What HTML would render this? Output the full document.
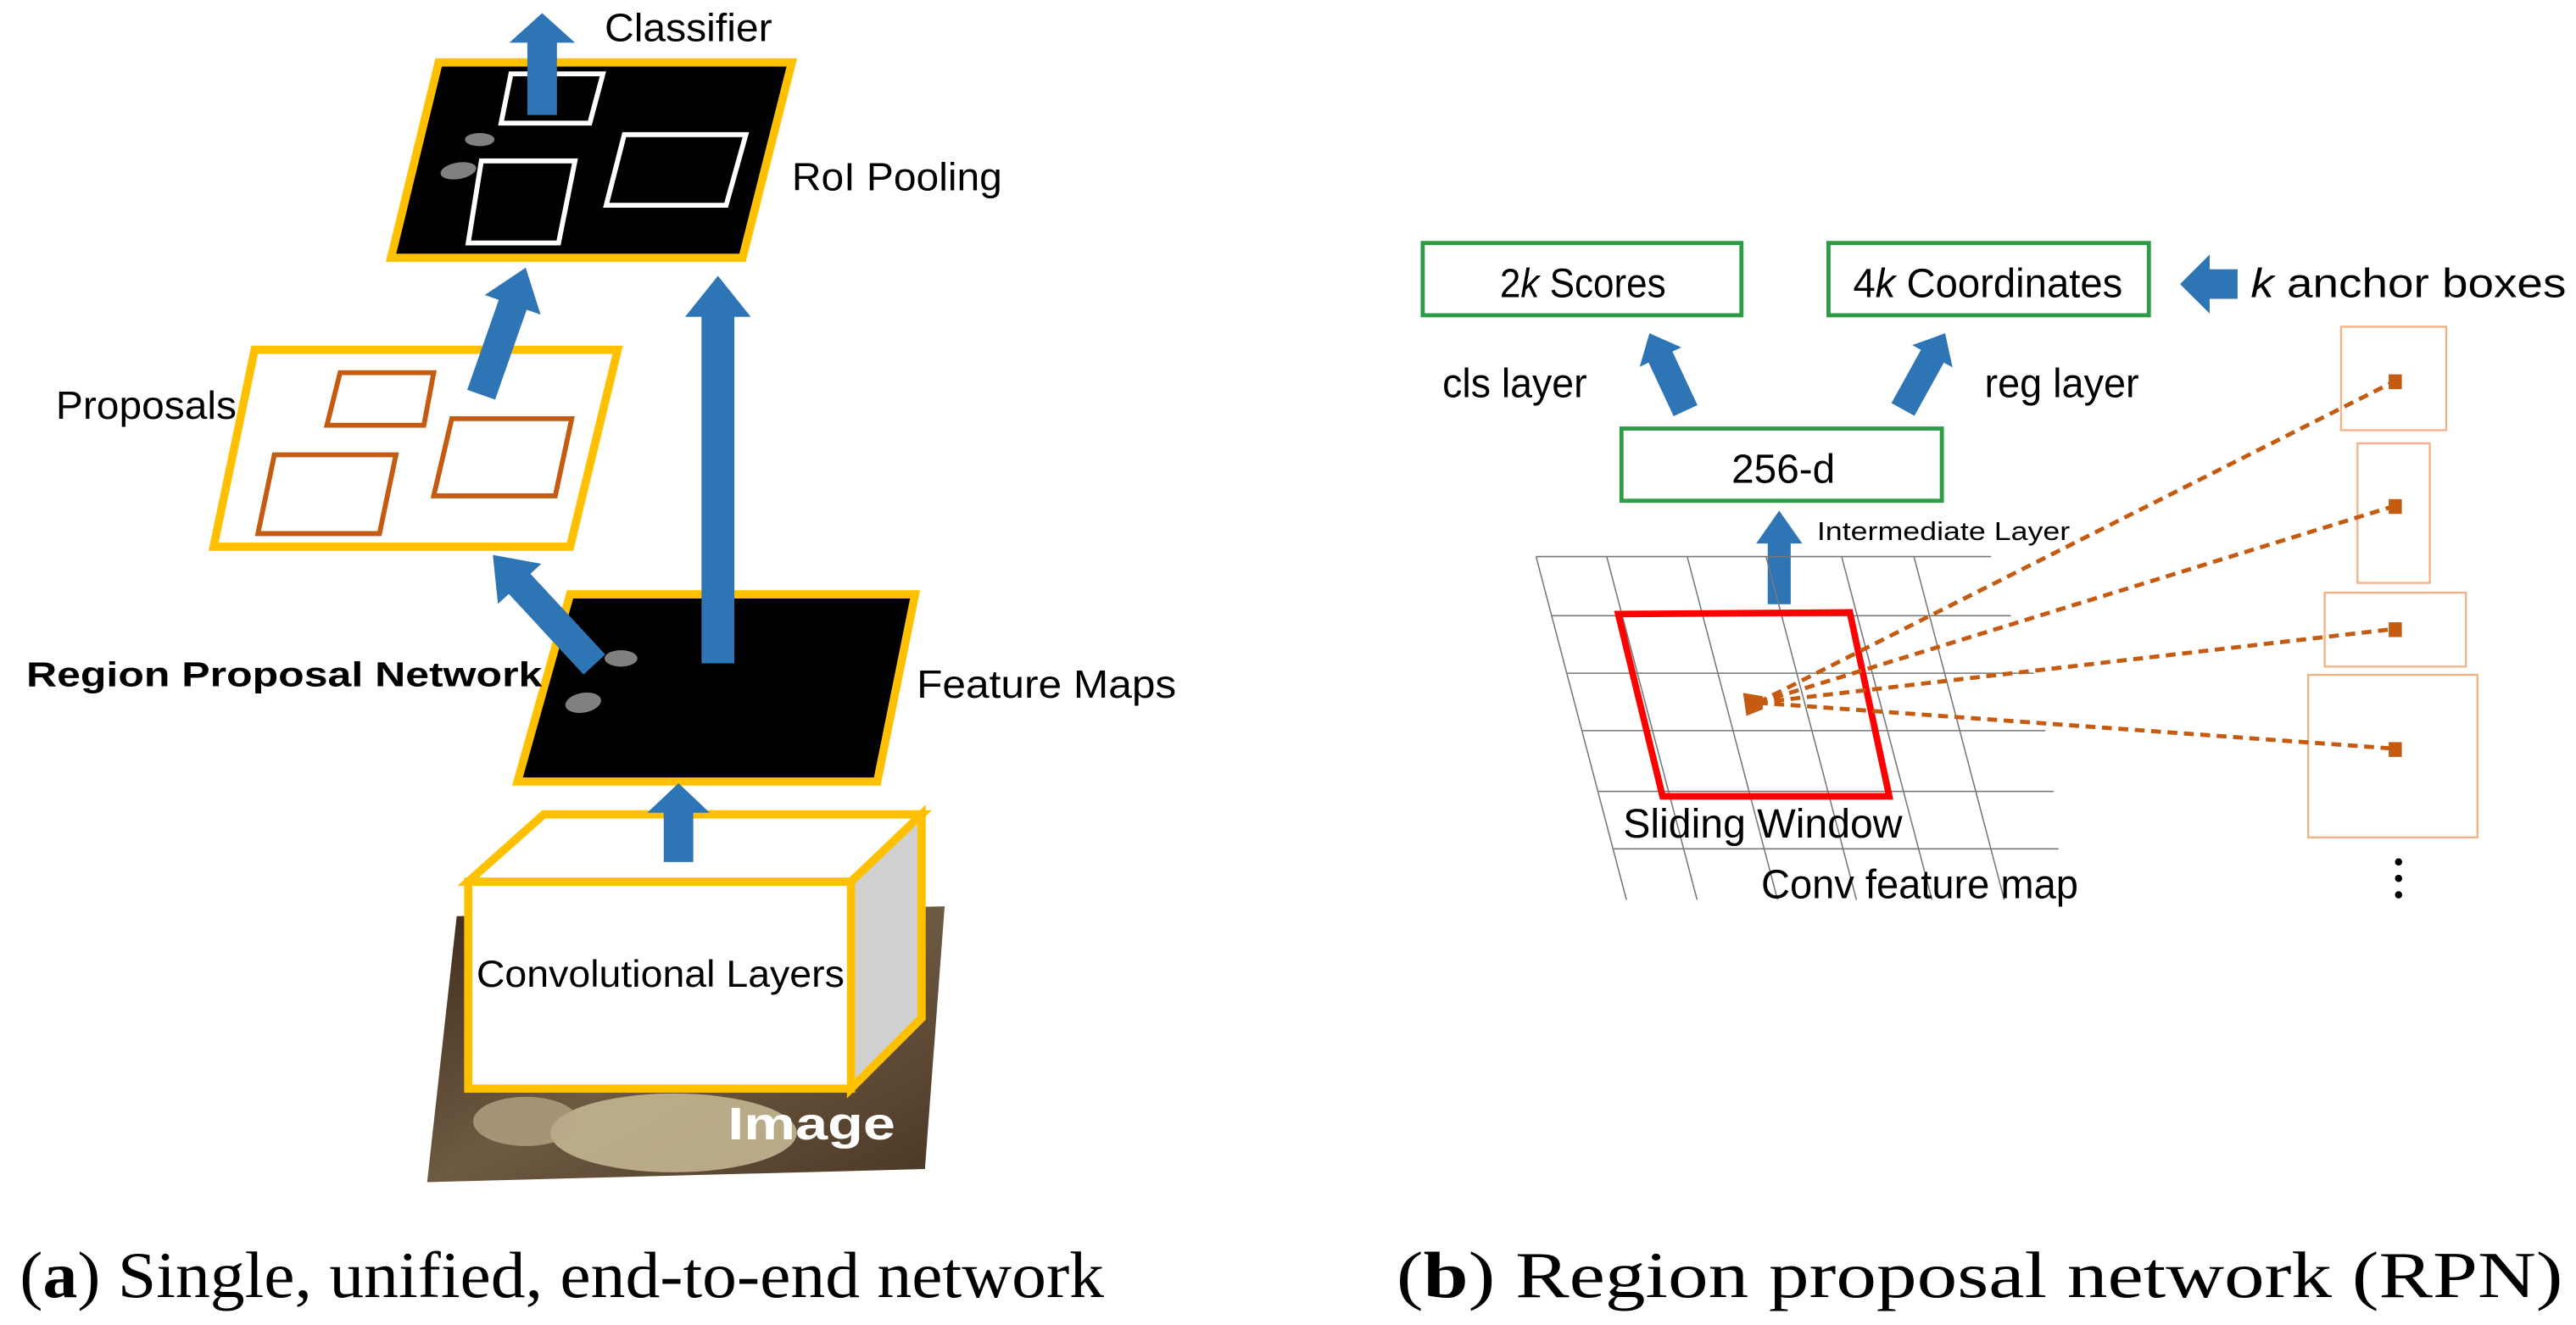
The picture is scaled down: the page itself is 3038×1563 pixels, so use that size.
<!DOCTYPE html>
<html><head><meta charset="utf-8"><style>
html,body{margin:0;padding:0;background:#fff;}
svg{display:block;}
text{font-family:"Liberation Sans",sans-serif;}
.s{font-family:"Liberation Serif",serif;}
</style></head><body>
<svg width="3038" height="1563" viewBox="0 0 1568 807" preserveAspectRatio="none" xmlns="http://www.w3.org/2000/svg">
<defs>
<linearGradient id="img" x1="0" y1="0" x2="1" y2="1">
<stop offset="0" stop-color="#3e2c1c"/><stop offset="0.5" stop-color="#6e5a42"/><stop offset="1" stop-color="#4a3624"/>
</linearGradient>
</defs>
<polygon points="278,558 575,552 563,712 260,720" fill="url(#img)"/>
<ellipse cx="410" cy="690" rx="75" ry="24" fill="#c9bb96" opacity="0.85"/>
<ellipse cx="320" cy="683" rx="32" ry="15" fill="#b8a888" opacity="0.75"/>
<polygon points="285,537 331,496 561,496 518,537" fill="#fff" stroke="#ffc000" stroke-width="5"/>
<polygon points="518,537 561,496 561,620 518,663" fill="#d0d0d0" stroke="#ffc000" stroke-width="5"/>
<rect x="285" y="537" width="233" height="126" fill="#fff" stroke="#ffc000" stroke-width="5"/>
<text x="290" y="601" font-size="23" textLength="224" lengthAdjust="spacingAndGlyphs">Convolutional Layers</text>
<text x="443" y="694" font-size="28" font-weight="bold" fill="#fff" textLength="102" lengthAdjust="spacingAndGlyphs">Image</text>
<polygon points="347,362 557,362 534,476 315,476" fill="#000" stroke="#ffc000" stroke-width="5"/>
<ellipse cx="378" cy="401" rx="10" ry="5" fill="#808080"/>
<ellipse cx="355" cy="428" rx="11" ry="6" fill="#808080" transform="rotate(-10 355 428)"/>
<text x="558" y="425" font-size="24" textLength="158" lengthAdjust="spacingAndGlyphs">Feature Maps</text>
<text x="16" y="418" font-size="21" font-weight="bold" textLength="314" lengthAdjust="spacingAndGlyphs">Region Proposal Network</text>
<polygon points="155,213 376,213 347,333 130,333" fill="#fff" stroke="#ffc000" stroke-width="5"/>
<polygon points="207,227 264,227 258,259 199,259" fill="none" stroke="#c55a11" stroke-width="3"/>
<polygon points="275,255 348,255 338,302 264,302" fill="none" stroke="#c55a11" stroke-width="3"/>
<polygon points="167,277 241,277 231,325 157,325" fill="none" stroke="#c55a11" stroke-width="3"/>
<text x="34" y="255" font-size="24" textLength="110" lengthAdjust="spacingAndGlyphs">Proposals</text>
<polygon points="267,38 482,38 452,157 238,157" fill="#000" stroke="#ffc000" stroke-width="5"/>
<polygon points="311,45 367,45 359,75 305,75" fill="none" stroke="#fff" stroke-width="3"/>
<polygon points="293,98 350,98 340,148 285,148" fill="none" stroke="#fff" stroke-width="3"/>
<polygon points="380,82 454,82 442,125 369,125" fill="none" stroke="#fff" stroke-width="3"/>
<ellipse cx="292" cy="85" rx="9" ry="4" fill="#808080"/>
<ellipse cx="279" cy="104" rx="11" ry="5" fill="#808080" transform="rotate(-10 279 104)"/>
<text x="482" y="116" font-size="24" textLength="128" lengthAdjust="spacingAndGlyphs">RoI Pooling</text>
<text x="368" y="25" font-size="24" textLength="102" lengthAdjust="spacingAndGlyphs">Classifier</text>
<g fill="#2e75b6">
<polygon transform="translate(330,8)" points="0,0 20,18 9,18 9,62 -9,62 -9,18 -20,18"/>
<polygon transform="translate(437,168)" points="0,0 20,25 10,25 10,236 -10,236 -10,25 -20,25"/>
<polygon transform="translate(320,163) rotate(19.3)" points="0,0 18,24 9,24 9,82 -9,82 -9,24 -18,24"/>
<polygon transform="translate(300,338) rotate(-42.8)" points="0,0 18,24 9,24 9,91 -9,91 -9,24 -18,24"/>
<polygon transform="translate(413,477)" points="0,0 19,18 9,18 9,48 -9,48 -9,18 -19,18"/>
</g>
<text class="s" x="12" y="790" font-size="40" textLength="660" lengthAdjust="spacingAndGlyphs">(<tspan font-weight="bold">a</tspan>) Single, unified, end-to-end network</text>

<g fill="none" stroke="#2e9b46" stroke-width="2.5">
<rect x="866" y="148" width="194" height="44"/>
<rect x="1113" y="148" width="195" height="44"/>
<rect x="987" y="261" width="195" height="44"/>
</g>
<text x="913" y="181" font-size="25" textLength="101" lengthAdjust="spacingAndGlyphs">2<tspan font-style="italic">k</tspan> Scores</text>
<text x="1128" y="181" font-size="25" textLength="164" lengthAdjust="spacingAndGlyphs">4<tspan font-style="italic">k</tspan> Coordinates</text>
<text x="1054" y="294" font-size="25" textLength="63" lengthAdjust="spacingAndGlyphs">256-d</text>
<text x="1370" y="181" font-size="25" textLength="192" lengthAdjust="spacingAndGlyphs"><tspan font-style="italic">k</tspan> anchor boxes</text>
<text x="878" y="242" font-size="25" textLength="88" lengthAdjust="spacingAndGlyphs">cls layer</text>
<text x="1208" y="242" font-size="25" textLength="94" lengthAdjust="spacingAndGlyphs">reg layer</text>
<text x="1106" y="329" font-size="16" textLength="154" lengthAdjust="spacingAndGlyphs">Intermediate Layer</text>
<g fill="#2e75b6">
<polygon transform="translate(1327,173) rotate(-90)" points="0,0 18,18 9,18 9,35 -9,35 -9,18 -18,18"/>
<polygon transform="translate(1004,203) rotate(-25)" points="0,0 14,16 8,16 8,52 -8,52 -8,16 -14,16"/>
<polygon transform="translate(1184,203) rotate(29)" points="0,0 14,16 8,16 8,53 -8,53 -8,16 -14,16"/>
<polygon transform="translate(1083,311)" points="0,0 14,20 7,20 7,57 -7,57 -7,20 -14,20"/>
</g>
<g stroke="#777" stroke-width="0.8">
<line x1="935" y1="339" x2="990" y2="548"/>
<line x1="978" y1="339" x2="1033" y2="548"/>
<line x1="1027" y1="339" x2="1082" y2="548"/>
<line x1="1075" y1="339" x2="1130" y2="548"/>
<line x1="1121" y1="339" x2="1176" y2="548"/>
<line x1="1165" y1="339" x2="1220" y2="548"/>
<line x1="935" y1="339" x2="1212" y2="339"/>
<line x1="944" y1="375" x2="1224" y2="375"/>
<line x1="954" y1="410" x2="1238" y2="410"/>
<line x1="963" y1="445" x2="1245" y2="445"/>
<line x1="973" y1="482" x2="1250" y2="482"/>
<line x1="982" y1="517" x2="1253" y2="517"/>
</g>
<polygon points="985,374 1126,373 1150,485 1012,485" fill="none" stroke="#ff0000" stroke-width="4"/>
<text x="988" y="510" font-size="25" textLength="170" lengthAdjust="spacingAndGlyphs">Sliding Window</text>
<text x="1072" y="547" font-size="25" textLength="193" lengthAdjust="spacingAndGlyphs">Conv feature map</text>
<g fill="none" stroke="#f4b183" stroke-width="1.2">
<rect x="1425" y="199" width="64" height="63"/>
<rect x="1435" y="270" width="44" height="85"/>
<rect x="1415" y="361" width="86" height="45"/>
<rect x="1405" y="411" width="103" height="99"/>
</g>
<g stroke="#c55a11" stroke-width="2.5" stroke-dasharray="6,4" fill="none">
<line x1="1070" y1="428" x2="1458" y2="232"/>
<line x1="1070" y1="428" x2="1458" y2="308"/>
<line x1="1070" y1="428" x2="1458" y2="383"/>
<line x1="1070" y1="428" x2="1458" y2="456"/>
</g>
<g fill="#c55a11">
<polygon points="1061,422 1073,424 1073,432 1063,436"/>
<rect x="1454" y="228" width="8" height="9"/>
<rect x="1454" y="304" width="8" height="9"/>
<rect x="1454" y="379" width="8" height="9"/>
<rect x="1454" y="452" width="8" height="9"/>
</g>
<g fill="#000">
<circle cx="1460" cy="525" r="2.2"/><circle cx="1460" cy="535" r="2.2"/><circle cx="1460" cy="545" r="2.2"/>
</g>
<text class="s" x="850" y="790" font-size="40" textLength="710" lengthAdjust="spacingAndGlyphs">(<tspan font-weight="bold">b</tspan>) Region proposal network (RPN)</text>
</svg>
</body></html>
